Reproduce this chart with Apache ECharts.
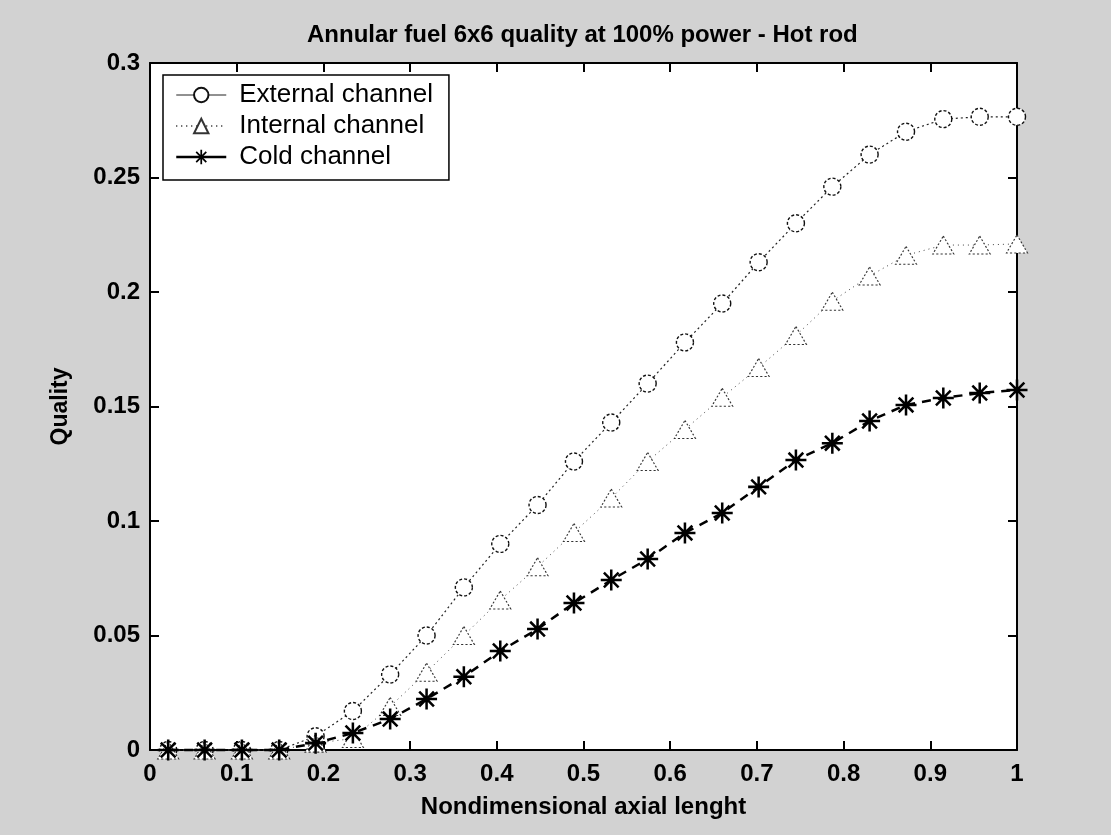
<!DOCTYPE html>
<html>
<head>
<meta charset="utf-8">
<script src="https://cdn.jsdelivr.net/npm/echarts@6/dist/echarts.min.js"></script>
<style>
html,body{margin:0;padding:0;background:#d2d2d2;}
#c{width:1111px;height:835px;}
</style>
</head>
<body>
<div id="c"></div>
<script>
// ---- data ----
const axialLength = [0.021, 0.063, 0.106, 0.149, 0.191, 0.234, 0.277, 0.319, 0.362, 0.404, 0.447, 0.489,
                     0.532, 0.574, 0.617, 0.660, 0.702, 0.745, 0.787, 0.830, 0.872, 0.915, 0.957, 1.0];
const externalChannel = [0, 0, 0, 0, 0.006, 0.017, 0.033, 0.050, 0.071, 0.090, 0.107, 0.126,
                         0.143, 0.160, 0.178, 0.195, 0.213, 0.230, 0.246, 0.260, 0.270, 0.2755, 0.2765, 0.2765];
const internalChannel = [0, 0, 0, 0, 0.003, 0.005, 0.019, 0.034, 0.050, 0.0655, 0.080, 0.095,
                         0.110, 0.126, 0.140, 0.154, 0.167, 0.181, 0.196, 0.207, 0.216, 0.2205, 0.2205, 0.221];
const coldChannel = [0, 0, 0, 0, 0.003, 0.0074, 0.0135, 0.0223, 0.032, 0.0432, 0.0528, 0.0642,
                     0.0742, 0.0834, 0.0948, 0.1035, 0.1149, 0.1266, 0.134, 0.1437, 0.1507, 0.1537, 0.1559, 0.1572];
const seriesNames = ['External channel', 'Internal channel', 'Cold channel'];
const xTicks = {min: 0, max: 1, interval: 0.1};
const yTicks = {min: 0, max: 0.3, interval: 0.05};
const titleText = 'Annular fuel 6x6 quality at 100% power - Hot rod';
const xName = 'Nondimensional axial lenght';
const yName = 'Quality';

const pair = (ys) => axialLength.map((x, i) => [x, ys[i]]);
const FONT = 'Liberation Sans, Arial, sans-serif';
const asterisk = 'path://M8.8,0L11.2,0L11.2,20L8.8,20Z M0,8.8L20,8.8L20,11.2L0,11.2Z ' +
  'M3.85,2.15L17.85,16.15L16.15,17.85L2.15,3.85Z M17.85,3.85L3.85,17.85L2.15,16.15L16.15,2.15Z';

const chart = echarts.init(document.getElementById('c'), null, {renderer: 'canvas'});
const baseX = {
  type: 'value', min: xTicks.min, max: xTicks.max, interval: xTicks.interval,
  axisLine: {show: true, onZero: false, lineStyle: {color: '#000', width: 2}},
  axisTick: {show: true, inside: true, length: 9, lineStyle: {color: '#000', width: 2}},
  splitLine: {show: false}
};
const baseY = {
  type: 'value', min: yTicks.min, max: yTicks.max, interval: yTicks.interval,
  axisLine: {show: true, onZero: false, lineStyle: {color: '#000', width: 2}},
  axisTick: {show: true, inside: true, length: 9, lineStyle: {color: '#000', width: 2}},
  splitLine: {show: false}
};
chart.setOption({
  backgroundColor: '#d2d2d2',
  animation: false,
  title: {
    text: titleText, left: 302, top: 18,
    textStyle: {fontFamily: FONT, fontSize: 24, fontWeight: 'bold', color: '#000'}
  },
  grid: {left: 150, right: 94, top: 63, bottom: 85, show: true, backgroundColor: '#fff', borderWidth: 0},
  legend: {
    orient: 'vertical', left: 163, top: 75,
    data: [
      {name: seriesNames[0], lineStyle: {type: 'solid', width: 1, color: '#222'}},
      {name: seriesNames[1]},
      {name: seriesNames[2], lineStyle: {type: 'solid', width: 2.5, color: '#000'}}
    ],
    backgroundColor: '#fff', borderColor: '#000', borderWidth: 1.5,
    padding: [7, 16, 10, 12], itemGap: 5, itemWidth: 50, itemHeight: 18,
    textStyle: {fontFamily: FONT, fontSize: 26, lineHeight: 26, color: '#000', padding: [0, 0, 0, 8]}
  },
  xAxis: [
    Object.assign({}, baseX, {
      position: 'bottom', name: xName, nameLocation: 'middle', nameGap: 45,
      nameTextStyle: {fontFamily: FONT, fontSize: 24, fontWeight: 'bold', color: '#000'},
      axisLabel: {fontFamily: FONT, fontSize: 24, fontWeight: 'bold', color: '#000', margin: 12}
    }),
    Object.assign({}, baseX, {position: 'top', axisLabel: {show: false}})
  ],
  yAxis: [
    Object.assign({}, baseY, {
      position: 'left', name: yName, nameLocation: 'middle', nameGap: 78, nameRotate: 90,
      nameTextStyle: {fontFamily: FONT, fontSize: 23, fontWeight: 'bold', color: '#000'},
      axisLabel: {fontFamily: FONT, fontSize: 24, fontWeight: 'bold', color: '#000', margin: 10}
    }),
    Object.assign({}, baseY, {position: 'right', axisLabel: {show: false}})
  ],
  series: [
    {
      name: seriesNames[0], type: 'line', data: pair(externalChannel), clip: false,
      symbol: 'circle', symbolSize: 17, showAllSymbol: true,
      lineStyle: {color: '#222', width: 1.2, type: [2, 3]},
      itemStyle: {color: '#fff', borderColor: '#111', borderWidth: 1.4, borderType: [3, 2]},
      z: 2
    },
    {
      name: seriesNames[1], type: 'line', data: pair(internalChannel), clip: false,
      symbol: 'triangle', symbolSize: [21, 18], showAllSymbol: true,
      lineStyle: {color: '#444', width: 1, type: [1, 4]},
      itemStyle: {color: '#fff', borderColor: '#333', borderWidth: 1.1, borderType: [2, 2]},
      z: 3
    },
    {
      name: seriesNames[2], type: 'line', data: pair(coldChannel), clip: false,
      symbol: asterisk, symbolSize: 21, showAllSymbol: true,
      lineStyle: {color: '#000', width: 2.5, type: [9, 7]},
      itemStyle: {color: '#000', borderWidth: 0},
      z: 4
    }
  ]
});
</script>
</body>
</html>
